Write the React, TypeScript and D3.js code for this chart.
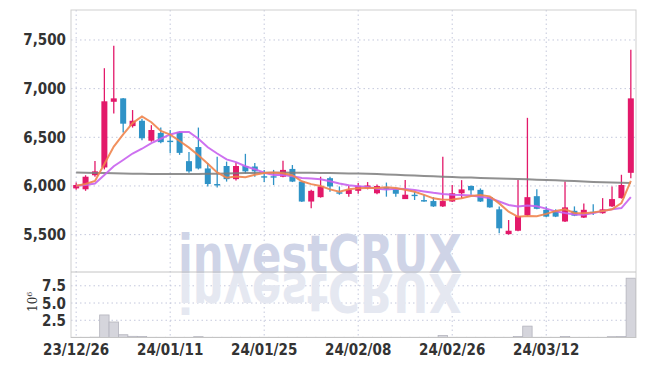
import React from "react";
import * as d3 from "d3";

const dates = [
  "23/12/26","23/12/27","23/12/28","24/01/02","24/01/03","24/01/04","24/01/05","24/01/08","24/01/09","24/01/10",
  "24/01/11","24/01/12","24/01/15","24/01/16","24/01/17","24/01/18","24/01/19","24/01/22","24/01/23","24/01/24",
  "24/01/25","24/01/26","24/01/29","24/01/30","24/01/31","24/02/01","24/02/02","24/02/05","24/02/06","24/02/07",
  "24/02/08","24/02/13","24/02/14","24/02/15","24/02/16","24/02/19","24/02/20","24/02/21","24/02/22","24/02/23",
  "24/02/26","24/02/27","24/02/28","24/02/29","24/03/04","24/03/05","24/03/06","24/03/07","24/03/08","24/03/11",
  "24/03/12","24/03/13","24/03/14","24/03/15","24/03/18","24/03/19","24/03/20","24/03/21","24/03/22","24/03/25",
];

const open = [
  5975,5966,6110,6190,6865,6900,6615,6670,6465,6545,
  6465,6555,6255,6400,6180,6020,6205,6070,6205,6200,
  6100,6100,6095,6175,6045,5840,5885,6080,5935,5918,
  5950,5975,5925,5990,5965,5865,5910,5855,5845,5790,
  5840,5925,6000,5960,5885,5760,5505,5540,5700,5895,
  5755,5745,5635,5745,5675,5735,5720,5790,5875,6135,
];
const high = [
  6035,6110,6257,7210,7440,6905,6780,6690,6625,6600,
  6575,6560,6350,6600,6235,6300,6250,6240,6330,6235,
  6165,6165,6260,6215,6045,5960,6095,6095,5995,6000,
  6030,6040,6015,6035,5970,6060,5940,5910,5885,6300,
  6010,6060,6005,5975,5890,5790,5650,6060,6700,5965,
  5790,5760,6045,5790,5820,5812,5875,5995,6115,7400,
];
const low = [
  5960,5950,6095,6170,6745,6550,6600,6470,6455,6440,
  6336,6320,6135,6170,5995,5985,6045,6055,6130,6095,
  6040,6010,6090,6040,5835,5770,5880,5940,5910,5890,
  5920,5965,5915,5890,5890,5865,5856,5838,5785,5785,
  5835,5875,5910,5835,5775,5515,5500,5535,5690,5760,
  5680,5680,5630,5690,5670,5702,5715,5785,5870,6080,
];
const close = [
  6010,6095,6150,6870,6900,6640,6670,6490,6575,6450,
  6455,6340,6150,6180,6020,6005,6070,6205,6150,6150,
  6095,6095,6165,6045,5840,5950,5995,5995,5930,5960,
  6000,6005,6000,5968,5920,5910,5905,5840,5790,5845,
  5925,5965,5955,5840,5780,5565,5540,5690,5885,5765,
  5685,5685,5780,5695,5755,5728,5760,5865,6010,6900,
];
// closes of the nine sessions before the first one shown (read from the MA start levels)
const priorCloses = [6000, 6000, 6000, 6000, 6000, 6000, 6000, 6000, 6000];

// long moving average (grey line)
const longMA = [
  6138,6136,6134,6132,6130,6128,6126,6125,6124,6123,
  6122,6122,6123,6124,6125,6126,6128,6130,6132,6134,
  6136,6137,6138,6137,6136,6135,6134,6133,6131,6129,
  6127,6125,6122,6119,6115,6111,6107,6103,6099,6095,
  6091,6088,6086,6083,6080,6077,6074,6071,6068,6065,
  6062,6058,6054,6050,6046,6042,6038,6035,6032,6030,
];

// volume in millions
const volume = [
  0.03,0.03,0.05,3.27,2.25,0.4,0.17,0.15,0.03,0.03,
  0.03,0.03,0.03,0.12,0.03,0.03,0.03,0.03,0.03,0.03,
  0.03,0.03,0.03,0.03,0.03,0.03,0.03,0.03,0.03,0.03,
  0.03,0.03,0.03,0.03,0.03,0.03,0.03,0.03,0.03,0.3,
  0.03,0.03,0.03,0.03,0.03,0.03,0.03,0.15,1.65,0.03,
  0.03,0.03,0.15,0.03,0.03,0.03,0.03,0.12,0.15,8.6,
];

const priceTicks = [5500, 6000, 6500, 7000, 7500];
const volumeTicks = [2.5, 5.0, 7.5];
const dateTickIdx = [0, 10, 20, 30, 40, 50];

const UP = "#e3196a";
const DOWN = "#2f93c7";
const MA5C = "#f0844c";
const MA10C = "#c862ee";
const MALONG = "#7c7c7c";
const GRID = "#c4c8dc";
const FONT = "'Liberation Sans Narrow', 'DejaVu Sans Condensed', 'Roboto', sans-serif";

function movingAverage(n: number): number[] {
  const all = [...priorCloses, ...close];
  const off = priorCloses.length;
  return close.map((_, i) => d3.mean(all.slice(i + off - n + 1, i + off + 1)) as number);
}

export default function App() {
  const L = 71, R = 636, T = 10, PB = 272, VB = 337.5;
  const x = d3.scaleLinear().domain([-0.55, 59.55]).range([L, R]);
  const y = d3.scaleLinear().domain([5116, 7808]).range([PB, T]);
  const yv = d3.scaleLinear().domain([0, 9.5]).range([VB, PB]);
  const step = x(1) - x(0);
  const bw = 6;

  const ma5 = movingAverage(5);
  const ma10 = movingAverage(10);
  const line = d3.line<number>().x((_, i) => x(i)).y((d) => y(d));
  const fmt = d3.format(",");

  return (
    <svg width={645} height={366} style={{ position: "absolute", left: 0, top: 0, background: "#fff" }}>
      {/* grid */}
      {priceTicks.map((t) => (
        <line key={"hp" + t} x1={L} x2={R} y1={y(t)} y2={y(t)} stroke={GRID} strokeDasharray="1.5,3" />
      ))}
      {volumeTicks.map((t) => (
        <line key={"hv" + t} x1={L} x2={R} y1={yv(t)} y2={yv(t)} stroke={GRID} strokeDasharray="1.5,3" />
      ))}
      {dateTickIdx.map((i) => (
        <line key={"vg" + i} x1={x(i)} x2={x(i)} y1={T} y2={VB} stroke={GRID} strokeDasharray="1.5,3" />
      ))}

      {/* watermark with reflection */}
      <text x={178} y={273} fontFamily="'DejaVu Sans', sans-serif" fontWeight="bold" fontSize={53}
        textLength={284} lengthAdjust="spacingAndGlyphs" fill="#cfd4e7">investCRUX</text>
      <g transform="translate(0,547) scale(1,-1)">
        <text x={178} y={273} fontFamily="'DejaVu Sans', sans-serif" fontWeight="bold" fontSize={53}
          textLength={284} lengthAdjust="spacingAndGlyphs" fill="#e5e8f1">investCRUX</text>
      </g>

      {/* volume bars */}
      {volume.map((v, i) => (
        <rect key={"v" + i} x={x(i) - step / 2} y={yv(v)} width={step} height={VB - yv(v)}
          fill="#d5d5dc" stroke="#b4b4bd" strokeWidth={0.8} />
      ))}

      {/* candles */}
      {close.map((c, i) => {
        const o = open[i];
        const col = c >= o ? UP : DOWN;
        const top = y(Math.max(o, c));
        const h = Math.max(1.4, Math.abs(y(o) - y(c)));
        return (
          <g key={"c" + i}>
            <line x1={x(i)} x2={x(i)} y1={y(high[i])} y2={y(low[i])} stroke={col} strokeWidth={1.3} />
            <rect x={x(i) - bw / 2} y={top} width={bw} height={h} fill={col} />
          </g>
        );
      })}

      {/* moving averages */}
      <path d={line(longMA) || ""} fill="none" stroke={MALONG} strokeWidth={2} strokeOpacity={0.85} />
      <path d={line(ma10) || ""} fill="none" stroke={MA10C} strokeWidth={2} strokeOpacity={0.9} />
      <path d={line(ma5) || ""} fill="none" stroke={MA5C} strokeWidth={2} strokeOpacity={0.9} />

      {/* frame */}
      <rect x={L} y={T} width={R - L} height={VB - T} fill="none" stroke="#cfcfcf" />
      <line x1={L} x2={R} y1={PB} y2={PB} stroke="#c4c4c4" />
      <line x1={L} x2={R} y1={VB} y2={VB} stroke="#c4c4c4" />

      {/* price axis labels */}
      {priceTicks.map((t) => (
        <text key={"pl" + t} x={66} y={y(t) + 5.5} textAnchor="end" fontFamily={FONT} fontWeight="bold"
          fontSize={15} fill="#333">{fmt(t)}</text>
      ))}
      {/* volume axis labels */}
      {volumeTicks.map((t) => (
        <text key={"vl" + t} x={66} y={yv(t) + 5.5} textAnchor="end" fontFamily={FONT} fontWeight="bold"
          fontSize={15} fill="#333">{t.toFixed(1)}</text>
      ))}
      <text transform="translate(37,312) rotate(-90)" fontFamily="'DejaVu Serif', serif" fontSize={12} fill="#333">
        10<tspan fontSize={8} dy={-5}>6</tspan>
      </text>

      {/* date labels */}
      {dateTickIdx.map((i) => (
        <text key={"dl" + i} x={x(i)} y={355} textAnchor="middle" fontFamily={FONT} fontWeight="bold"
          fontSize={15} fill="#333">{dates[i]}</text>
      ))}
    </svg>
  );
}
